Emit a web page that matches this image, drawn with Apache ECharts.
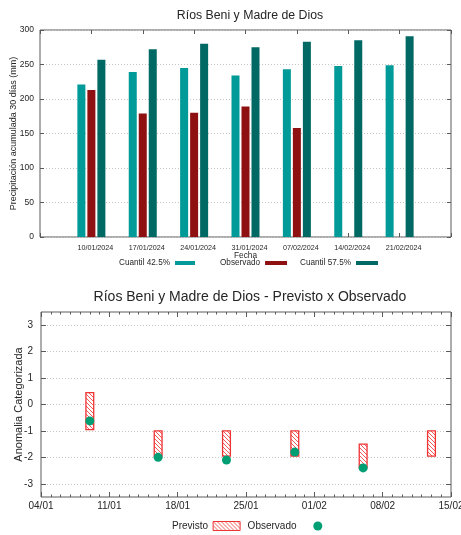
<!DOCTYPE html>
<html>
<head>
<meta charset="utf-8">
<script src="https://cdn.jsdelivr.net/npm/echarts@6/dist/echarts.min.js"></script>
<style>
  html, body { margin: 0; padding: 0; background: #fff; }
  #chart { width: 461px; height: 535px; }
</style>
</head>
<body>
<div id="chart"></div>
<script>
// 30-day accumulated precipitation (mm), weekly
const weekDates = ['10/01/2024', '17/01/2024', '24/01/2024', '31/01/2024', '07/02/2024', '14/02/2024', '21/02/2024'];
const quantile425 = [221, 239, 245, 234, 243, 248, 249];
const observedPrecip = [213, 179, 180, 189, 158, null, null];
const quantile575 = [257, 272, 280, 275, 283, 285, 291];
const precipTicks = [0, 50, 100, 150, 200, 250, 300];

// Categorized anomaly: forecast range and observed value
const forecastDates = ['2024-01-09', '2024-01-16', '2024-01-23', '2024-01-30', '2024-02-06', '2024-02-13'];
const forecastUpper = [0.45, -1, -1, -1, -1.5, -1];
const forecastLower = [-0.95, -1.95, -1.95, -1.95, -2.4, -1.95];
const observedDates = ['2024-01-09', '2024-01-16', '2024-01-23', '2024-01-30', '2024-02-06'];
const observedAnomaly = [-0.62, -2.0, -2.1, -1.8, -2.4];
const anomalyTicks = [-3, -2, -1, 0, 1, 2, 3];
const anomalyRange = ['2024-01-04', '2024-02-15'];

const FONT = '"Liberation Sans", Arial, sans-serif';
const TEXT = '#262626';
const FRAME = '#5a5a5a';
const DAY_MS = 86400000;
const toDay = s => Date.parse(s + 'T00:00:00Z') / DAY_MS;
const dayLabel = v => {
  const d = new Date(v * DAY_MS);
  return String(d.getUTCDate()).padStart(2, '0') + '/' + String(d.getUTCMonth() + 1).padStart(2, '0');
};

// Hatched red fill for the forecast boxes
function hatchPattern() {
  const c = document.createElement('canvas');
  c.width = 4; c.height = 4;
  const g = c.getContext('2d');
  g.fillStyle = '#ffffff';
  g.fillRect(0, 0, 4, 4);
  g.strokeStyle = '#f05a5a';
  g.lineWidth = 1;
  for (let k = -1; k <= 1; k++) {
    g.beginPath();
    g.moveTo(k * 4 - 1, -1);
    g.lineTo(k * 4 + 5, 5);
    g.stroke();
  }
  return { image: c, repeat: 'repeat' };
}
const hatch = hatchPattern();

// Week categories padded by one empty slot on each side
const weekAxis = [''].concat(weekDates, ['']);
const pad = arr => [null].concat(arr, [null]);

const precipMin = precipTicks[0];
const precipMax = precipTicks[precipTicks.length - 1];
const precipStep = precipTicks[1] - precipTicks[0];
const dayMin = toDay(anomalyRange[0]);
const dayMax = toDay(anomalyRange[1]);

const dotted = { show: true, lineStyle: { color: '#c4c4c4', type: [1, 2], width: 1 } };
const noLine = { show: false, onZero: false };

const chart = echarts.init(document.getElementById('chart'), null, { renderer: 'canvas' });

chart.setOption({
  backgroundColor: '#ffffff',
  animation: false,
  textStyle: { fontFamily: FONT },
  title: [
    {
      text: 'Ríos Beni y Madre de Dios',
      left: 245, top: 5, textAlign: 'center',
      textStyle: { fontFamily: FONT, fontSize: 12.3, fontWeight: 'normal', color: TEXT }
    },
    {
      text: 'Ríos Beni y Madre de Dios - Previsto x Observado',
      left: 245, top: 285, textAlign: 'center',
      textStyle: { fontFamily: FONT, fontSize: 14, fontWeight: 'normal', color: TEXT }
    }
  ],
  legend: [
    {
      data: ['Cuantil 42.5%'], left: 119, top: 259, padding: 0, align: 'right',
      itemWidth: 20, itemHeight: 4, icon: 'rect',
      textStyle: { fontFamily: FONT, fontSize: 8.2, color: TEXT }
    },
    {
      data: ['Observado'], left: 220, top: 259, padding: 0, align: 'right',
      itemWidth: 22, itemHeight: 4, icon: 'rect',
      textStyle: { fontFamily: FONT, fontSize: 8.2, color: TEXT }
    },
    {
      data: ['Cuantil 57.5%'], left: 300, top: 259, padding: 0, align: 'right',
      itemWidth: 22, itemHeight: 4, icon: 'rect',
      textStyle: { fontFamily: FONT, fontSize: 8.2, color: TEXT }
    },
    {
      data: [
        { name: 'Previsto', icon: 'rect', itemStyle: { color: hatch, borderColor: '#ee3333', borderWidth: 1 } },
        { name: 'Observado ', icon: 'circle' }
      ],
      left: 172, top: 521, padding: 0, align: 'right', itemGap: 7,
      itemWidth: 27, itemHeight: 9,
      textStyle: { fontFamily: FONT, fontSize: 10, color: TEXT }
    }
  ],
  grid: [
    { left: 40, right: 10, top: 30, height: 207, outerBoundsMode: 'none', containLabel: false,
      show: true, borderColor: FRAME, borderWidth: 1, backgroundColor: 'transparent' },
    { left: 41, right: 10, top: 312, height: 185, outerBoundsMode: 'none', containLabel: false,
      show: true, borderColor: FRAME, borderWidth: 1, backgroundColor: 'transparent' }
  ],
  xAxis: [
    {
      gridIndex: 0, type: 'category', data: weekAxis, boundaryGap: false,
      name: 'Fecha', nameLocation: 'middle', nameGap: 15, nameMoveOverlap: false,
      nameTextStyle: { fontFamily: FONT, fontSize: 8.3, color: TEXT },
      axisLine: noLine,
      axisTick: { show: true, inside: true, length: 4, interval: 0, lineStyle: { color: FRAME } },
      axisLabel: { interval: 0, margin: 8, fontSize: 7.2, color: TEXT, padding: [0, 0, 0, 8], hideOverlap: false },
      splitLine: { show: false }
    },
    {
      gridIndex: 0, type: 'category', data: weekAxis, boundaryGap: false, position: 'top',
      axisLine: noLine,
      axisTick: { show: true, inside: true, length: 4, interval: 0, lineStyle: { color: FRAME } },
      axisLabel: { show: false }, splitLine: { show: false }
    },
    {
      gridIndex: 1, type: 'value', min: dayMin, max: dayMax, interval: 7, position: 'bottom',
      axisLine: noLine,
      axisTick: { show: true, inside: true, length: 5, lineStyle: { color: FRAME } },
      minorTick: { show: true, splitNumber: 7, length: 2.5, lineStyle: { color: FRAME } },
      axisLabel: { margin: 4, fontSize: 10, color: TEXT, formatter: dayLabel, showMinLabel: true, showMaxLabel: true },
      splitLine: { show: false }, minorSplitLine: { show: false }
    },
    {
      gridIndex: 1, type: 'value', min: dayMin, max: dayMax, interval: 7, position: 'top',
      axisLine: noLine,
      axisTick: { show: true, inside: true, length: 5, lineStyle: { color: FRAME } },
      minorTick: { show: true, splitNumber: 7, length: 2.5, lineStyle: { color: FRAME } },
      axisLabel: { show: false }, splitLine: { show: false }
    }
  ],
  yAxis: [
    {
      gridIndex: 0, type: 'value', min: precipMin, max: precipMax, interval: precipStep,
      name: 'Precipitación acumulada 30 días (mm)', nameLocation: 'middle', nameGap: 21.5, nameMoveOverlap: false,
      nameTextStyle: { fontFamily: FONT, fontSize: 9, color: TEXT },
      axisLine: noLine,
      axisTick: { show: true, inside: true, length: 4, lineStyle: { color: FRAME } },
      axisLabel: { margin: 6, fontSize: 8.5, color: TEXT },
      splitLine: dotted
    },
    {
      gridIndex: 0, type: 'value', min: precipMin, max: precipMax, interval: precipStep, position: 'right',
      axisLine: noLine,
      axisTick: { show: true, inside: true, length: 4, lineStyle: { color: FRAME } },
      axisLabel: { show: false }, splitLine: { show: false }
    },
    {
      gridIndex: 1, type: 'value', min: -3.5, max: 3.5,
      name: 'Anomalia Categorizada', nameLocation: 'middle', nameGap: 16.5, nameMoveOverlap: false,
      nameTextStyle: { fontFamily: FONT, fontSize: 11, color: TEXT },
      axisLine: noLine,
      axisTick: { show: true, inside: true, length: 5, customValues: anomalyTicks, lineStyle: { color: FRAME } },
      axisLabel: { margin: 8, fontSize: 10, color: TEXT, customValues: anomalyTicks },
      splitLine: dotted
    },
    {
      gridIndex: 1, type: 'value', min: -3.5, max: 3.5, position: 'right',
      axisLine: noLine,
      axisTick: { show: true, inside: true, length: 5, customValues: anomalyTicks, lineStyle: { color: FRAME } },
      axisLabel: { show: false, customValues: anomalyTicks }, splitLine: { show: false }
    }
  ],
  series: [
    {
      name: 'Cuantil 42.5%', type: 'bar', xAxisIndex: 0, yAxisIndex: 0,
      data: pad(quantile425), barWidth: 8, barGap: '25%',
      itemStyle: { color: '#009a99' }
    },
    {
      name: 'Observado', type: 'bar', xAxisIndex: 0, yAxisIndex: 0,
      data: pad(observedPrecip), barWidth: 8, barGap: '25%',
      itemStyle: { color: '#8e1010' }
    },
    {
      name: 'Cuantil 57.5%', type: 'bar', xAxisIndex: 0, yAxisIndex: 0,
      data: pad(quantile575), barWidth: 8, barGap: '25%',
      itemStyle: { color: '#006964' }
    },
    {
      name: 'Previsto', type: 'custom', xAxisIndex: 2, yAxisIndex: 2,
      itemStyle: { color: hatch, borderColor: '#ee3333', borderWidth: 1 },
      encode: { x: 0, y: [1, 2] },
      data: forecastDates.map((d, i) => [toDay(d), forecastUpper[i], forecastLower[i]]),
      renderItem: (params, api) => {
        const top = api.coord([api.value(0), api.value(1)]);
        const bottom = api.coord([api.value(0), api.value(2)]);
        const w = api.size([0.8, 0])[0];
        return {
          type: 'rect',
          shape: { x: top[0] - w / 2, y: top[1], width: w, height: bottom[1] - top[1] },
          style: { fill: hatch, stroke: '#ee3333', lineWidth: 1.3 }
        };
      },
      z: 2
    },
    {
      name: 'Observado ', type: 'scatter', xAxisIndex: 2, yAxisIndex: 2,
      data: observedDates.map((d, i) => [toDay(d), observedAnomaly[i]]),
      symbol: 'circle', symbolSize: 9,
      itemStyle: { color: '#009e73', opacity: 1 },
      z: 3
    }
  ]
});
</script>
</body>
</html>
